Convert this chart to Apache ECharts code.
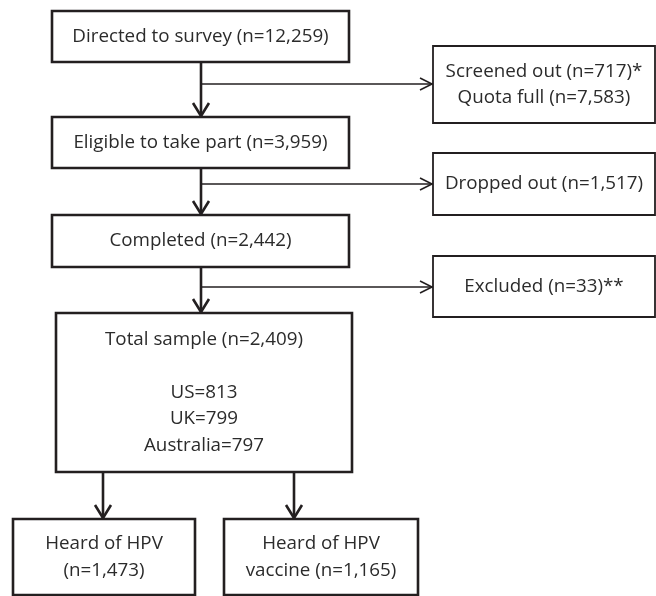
<!DOCTYPE html>
<html>
<head>
<meta charset="utf-8">
<title></title>
    <style>
        * {
            margin: 0;
            padding: 0;
        }
        #main {
            width: 656px;
            height: 596px;
            background: #fff;
        }
    </style>
</head>
<body>
<div id="main"></div>
<script src="https://cdn.jsdelivr.net/npm/echarts@6/dist/echarts.min.js"></script>
<script>
    // flow steps (main column) and what dropped off at each step
    var mainLabels = [
        'Directed to survey (n=12,259)',
        'Eligible to take part (n=3,959)',
        'Completed (n=2,442)',
        'Total sample (n=2,409)\n\nUS=813\nUK=799\nAustralia=797'
    ];
    var sideLabels = [
        'Screened out (n=717)*\nQuota full (n=7,583)',
        'Dropped out (n=1,517)',
        'Excluded (n=33)**'
    ];
    var outcomeLabels = [
        'Heard of HPV\n(n=1,473)',
        'Heard of HPV\nvaccine (n=1,165)'
    ];

    // layout, in pixel units of the hidden axes: [x0, y0, x1, y1]
    var mainBoxes = [[52, 11, 349, 62], [52, 117, 349, 168], [52, 215, 349, 267], [56, 313, 352, 472]];
    var sideBoxes = [[433, 46, 655, 123], [433, 153, 655, 215], [433, 256, 655, 317]];
    var outcomeBoxes = [[13, 519, 195, 595], [224, 519, 418, 595]];
    var stemX = 201;
    var branchY = [84, 184, 287];
    var outcomeX = [103, 294];

    var ink = '#231f20';
    var txt = '#2b2b2b';
    var font = 'Open Sans';

    var boxData = [];
    mainLabels.forEach(function (t, i) { boxData.push(mainBoxes[i].concat([2.6, t])); });
    sideLabels.forEach(function (t, i) { boxData.push(sideBoxes[i].concat([1.8, t])); });
    outcomeLabels.forEach(function (t, i) { boxData.push(outcomeBoxes[i].concat([2.6, t])); });

    // connectors: x1, y1, x2, y2, width, arrow direction
    var linkData = [];
    for (var i = 0; i < 3; i++) {
        linkData.push([stemX, mainBoxes[i][3], stemX, mainBoxes[i + 1][1], 2.6, 'down']);
        linkData.push([stemX, branchY[i], sideBoxes[i][0], branchY[i], 1.3, 'right']);
    }
    outcomeX.forEach(function (x, i) {
        linkData.push([x, mainBoxes[3][3], x, outcomeBoxes[i][1], 2.6, 'down']);
    });

    var myChart = echarts.init(document.getElementById('main'));
    var option = {
        animation: false,
        grid: { left: 0, right: 0, top: 0, bottom: 0 },
        xAxis: { type: 'value', min: 0, max: 656, show: false },
        yAxis: { type: 'value', min: 0, max: 596, inverse: true, show: false },
        series: [
            {
                type: 'custom',
                data: linkData,
                renderItem: function (params, api) {
                    var p1 = api.coord([api.value(0), api.value(1)]);
                    var p2 = api.coord([api.value(2), api.value(3)]);
                    var w = api.value(4);
                    var dir = linkData[params.dataIndex][5];
                    var head;
                    if (dir === 'down') {
                        head = [[p2[0] - 8, p2[1] - 14], [p2[0], p2[1] - 1], [p2[0] + 8, p2[1] - 14]];
                    } else {
                        head = [[p2[0] - 13, p2[1] - 6], [p2[0] - 1, p2[1]], [p2[0] - 13, p2[1] + 6]];
                    }
                    return {
                        type: 'group',
                        children: [
                            { type: 'line', shape: { x1: p1[0], y1: p1[1], x2: p2[0], y2: p2[1] - (dir === 'down' ? 1 : 0) },
                              style: { stroke: ink, lineWidth: w } },
                            { type: 'polyline', shape: { points: head },
                              style: { stroke: ink, lineWidth: dir === 'down' ? 2.6 : 1.6, fill: null } }
                        ]
                    };
                }
            },
            {
                type: 'custom',
                data: boxData,
                renderItem: function (params, api) {
                    var a = api.coord([api.value(0), api.value(1)]);
                    var b = api.coord([api.value(2), api.value(3)]);
                    var label = boxData[params.dataIndex][5];
                    return {
                        type: 'group',
                        children: [
                            { type: 'rect', shape: { x: a[0], y: a[1], width: b[0] - a[0], height: b[1] - a[1] },
                              style: { fill: '#fff', stroke: ink, lineWidth: api.value(4) } },
                            { type: 'text',
                              style: { text: label, x: (a[0] + b[0]) / 2, y: (a[1] + b[1]) / 2,
                                       align: 'center', verticalAlign: 'middle',
                                       fontFamily: font, fontSize: 18.8, lineHeight: 26.5, fill: txt } }
                        ]
                    };
                }
            }
        ]
    };
    myChart.setOption(option);
</script>
</body>
</html>
